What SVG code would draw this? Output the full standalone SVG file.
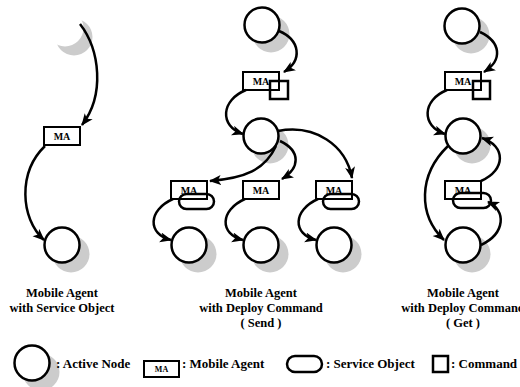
<svg xmlns="http://www.w3.org/2000/svg" width="520" height="387" viewBox="0 0 520 387">
  <style>
    .node { fill: #ffffff; stroke: #000000; stroke-width: 2.5; }
    .shadow { fill: #cccccc; stroke: none; }
    .ghost { fill: #ffffff; stroke: none; }
    .ma { fill: #ffffff; stroke: #000000; stroke-width: 2; }
    .so { fill: none; stroke: #000000; stroke-width: 2.5; }
    .cmd { fill: none; stroke: #000000; stroke-width: 2.5; }
    .ma-text { font-family: "Liberation Serif", "Times New Roman", serif; font-weight: bold; font-size: 10px; text-anchor: middle; fill: #000000; }
    .label { font-family: "Liberation Serif", "Times New Roman", serif; font-weight: bold; font-size: 12.5px; text-anchor: middle; fill: #000000; }
    .legend { font-family: "Liberation Serif", "Times New Roman", serif; font-weight: bold; font-size: 13px; fill: #000000; }
    .edge { fill: none; stroke: #000000; stroke-width: 2.5; marker-end: url(#arrow); }
  </style>
  <defs>
    <marker id="arrow" markerUnits="userSpaceOnUse" markerWidth="13" markerHeight="11" refX="11" refY="5" orient="auto">
      <path d="M0,0 L12,5 L0,10 L3,5 z" fill="#000000"/>
    </marker>
  </defs>

  <rect x="0" y="0" width="520" height="387" fill="#ffffff"/>

  <!-- Panel 1: mobile agent carrying a service object -->
  <g id="p1-origin">
    <circle class="shadow" cx="74" cy="37" r="18.5"/>
    <circle class="ghost" cx="65" cy="28" r="18.5"/>
  </g>
  <g id="p1-agent">
    <rect class="ma" x="44" y="127" width="36" height="18"/>
    <text class="ma-text" x="62" y="140">MA</text>
  </g>
  <g id="p1-target">
    <circle class="shadow" cx="71" cy="254" r="18.5"/>
    <circle class="node" cx="62" cy="245" r="17.5"/>
  </g>

  <!-- Panel 2: deploy command (send) -->
  <g id="p2-source">
    <circle class="shadow" cx="271" cy="34" r="18.5"/>
    <circle class="node" cx="262" cy="25" r="17.5"/>
  </g>
  <g id="p2-agent">
    <rect class="ma" x="243" y="72" width="36" height="18"/>
    <text class="ma-text" x="261" y="85">MA</text>
    <rect class="cmd" x="270" y="81" width="18" height="18"/>
  </g>
  <g id="p2-hub">
    <circle class="shadow" cx="270" cy="145" r="18.5"/>
    <circle class="node" cx="261" cy="136" r="17.5"/>
  </g>
  <g id="p2-agent-left">
    <rect class="ma" x="171" y="181" width="36" height="18"/>
    <text class="ma-text" x="189" y="194">MA</text>
    <rect class="so" x="179" y="194" width="35" height="15" rx="7.5"/>
  </g>
  <g id="p2-agent-mid">
    <rect class="ma" x="243" y="181" width="36" height="18"/>
    <text class="ma-text" x="261" y="194">MA</text>
  </g>
  <g id="p2-agent-right">
    <rect class="ma" x="316" y="181" width="36" height="18"/>
    <text class="ma-text" x="334" y="194">MA</text>
    <rect class="so" x="323" y="194" width="36" height="15" rx="7.5"/>
  </g>
  <g id="p2-leaf-left">
    <circle class="shadow" cx="198" cy="254" r="18.5"/>
    <circle class="node" cx="189" cy="245" r="17.5"/>
  </g>
  <g id="p2-leaf-mid">
    <circle class="shadow" cx="270" cy="254" r="18.5"/>
    <circle class="node" cx="261" cy="245" r="17.5"/>
  </g>
  <g id="p2-leaf-right">
    <circle class="shadow" cx="343" cy="254" r="18.5"/>
    <circle class="node" cx="334" cy="245" r="17.5"/>
  </g>

  <!-- Panel 3: deploy command (get) -->
  <g id="p3-source">
    <circle class="shadow" cx="471" cy="35" r="18.5"/>
    <circle class="node" cx="462" cy="26" r="17.5"/>
  </g>
  <g id="p3-agent">
    <rect class="ma" x="445" y="72" width="36" height="18"/>
    <text class="ma-text" x="463" y="85">MA</text>
    <rect class="cmd" x="473" y="81" width="17" height="18"/>
  </g>
  <g id="p3-hub">
    <circle class="shadow" cx="472" cy="145" r="18.5"/>
    <circle class="node" cx="463" cy="136" r="17.5"/>
  </g>
  <g id="p3-agent-return">
    <rect class="ma" x="445" y="181" width="36" height="18"/>
    <text class="ma-text" x="463" y="194">MA</text>
    <rect class="so" x="453" y="193" width="38" height="15" rx="7.5"/>
  </g>
  <g id="p3-leaf">
    <circle class="shadow" cx="472" cy="254" r="18.5"/>
    <circle class="node" cx="463" cy="245" r="17.5"/>
  </g>

  <!-- Connectors -->
  <g id="connectors">
    <path class="edge" d="M80,24 C100,50 105,95 82,125"/>
    <path class="edge" d="M45,146 C18,172 20,218 44,240"/>

    <path class="edge" d="M279,31 C300,40 303,60 284,72"/>
    <path class="edge" d="M246,90 C221,100 219,126 243,134"/>
    <path class="edge" d="M276,146 C265,170 245,178 210,181"/>
    <path class="edge" d="M280,141 C301,151 300,168 282,179"/>
    <path class="edge" d="M278,131 C315,124 346,145 352,178"/>
    <path class="edge" d="M173,199 C148,210 147,234 171,240"/>
    <path class="edge" d="M245,199 C220,210 219,234 243,240"/>
    <path class="edge" d="M318,199 C293,210 292,234 316,240"/>

    <path class="edge" d="M480,32 C501,42 503,60 484,72"/>
    <path class="edge" d="M447,90 C422,100 421,126 445,134"/>
    <path class="edge" d="M448,146 C418,175 418,215 444,240"/>
    <path class="edge" d="M481,181 C506,170 506,146 482,138"/>
    <path class="edge" d="M481,245 C506,233 506,210 488,202"/>
  </g>

  <!-- Captions -->
  <g id="captions">
    <text class="label" x="62" y="297">Mobile Agent</text>
    <text class="label" x="62" y="312">with Service Object</text>
    <text class="label" x="261" y="297">Mobile Agent</text>
    <text class="label" x="261" y="312">with Deploy Command</text>
    <text class="label" x="261" y="327">( Send )</text>
    <text class="label" x="463" y="297">Mobile Agent</text>
    <text class="label" x="463" y="312">with Deploy Command</text>
    <text class="label" x="463" y="327">( Get )</text>
  </g>

  <!-- Legend -->
  <g id="legend">
    <circle class="shadow" cx="41" cy="372" r="18.5"/>
    <circle class="node" cx="32" cy="363" r="17.5"/>
    <text class="legend" x="56" y="368">: Active Node</text>
    <rect class="ma" x="144" y="361" width="35" height="16"/>
    <text class="ma-text" x="161.5" y="372" style="font-size:8px">MA</text>
    <text class="legend" x="182" y="368">: Mobile Agent</text>
    <rect class="so" x="287" y="356" width="35" height="16" rx="8"/>
    <text class="legend" x="326" y="368">: Service Object</text>
    <rect class="cmd" x="433" y="356" width="15" height="16"/>
    <text class="legend" x="451" y="368">: Command</text>
  </g>
</svg>
